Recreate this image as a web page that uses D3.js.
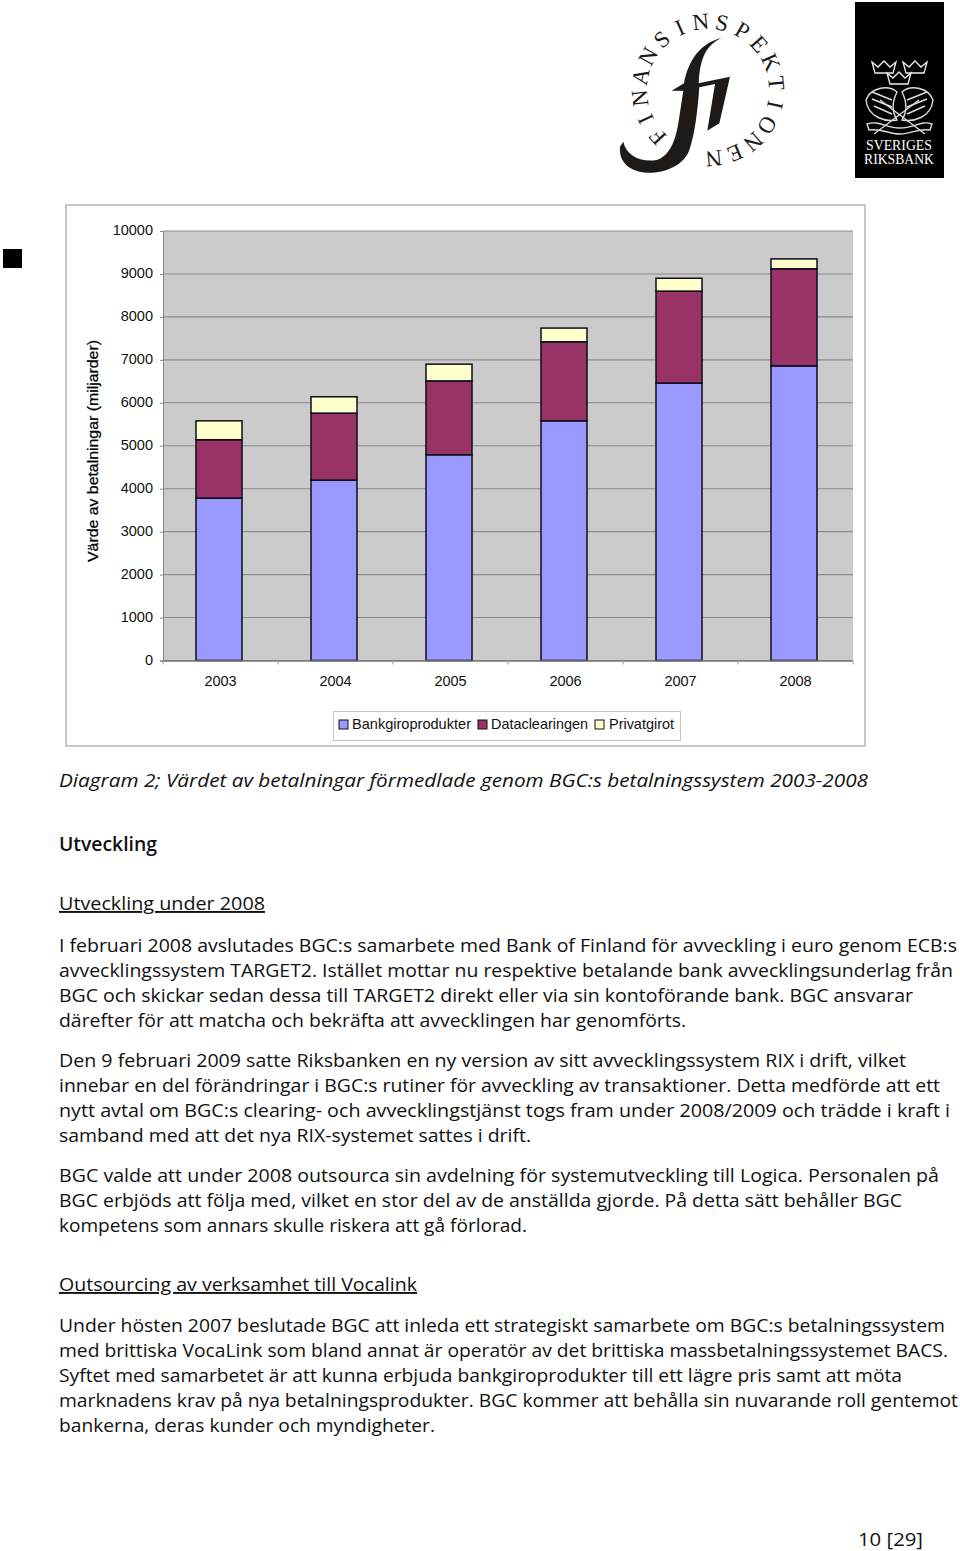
<!DOCTYPE html>
<html><head><meta charset="utf-8">
<script src="https://d3js.org/d3.v7.min.js"></script>
<style>html,body{margin:0;padding:0;background:#fff}svg{display:block}</style>
</head><body><div id="c"></div>
<script>
const years=["2003","2004","2005","2006","2007","2008"];
const bankgiro=[3780,4200,4790,5580,6460,6860];
const dataclearing=[1360,1560,1720,1840,2140,2260];
const privatgirot=[440,380,390,320,300,230];
const seriesNames=["Bankgiroprodukter","Dataclearingen","Privatgirot"];
const seriesColors=["#9999ff","#993366","#ffffcc"];
const yTicks=[0,1000,2000,3000,4000,5000,6000,7000,8000,9000,10000];
const yTitle="Värde av betalningar (miljarder)";
const logoLetters="FINANSINSPEKTIONEN".split("");
const bankLines=["SVERIGES","RIKSBANK"];
const bodyLines=[
["Diagram 2; Värdet av betalningar förmedlade genom BGC:s betalningssystem 2003-2008",787,868,"i"],
["Utveckling",851,157,"b"],
["Utveckling under 2008",910,265,"u"],
["I februari 2008 avslutades BGC:s samarbete med Bank of Finland för avveckling i euro genom ECB:s",952,957,""],
["avvecklingssystem TARGET2. Istället mottar nu respektive betalande bank avvecklingsunderlag från",977,953,""],
["BGC och skickar sedan dessa till TARGET2 direkt eller via sin kontoförande bank. BGC ansvarar",1002,913,""],
["därefter för att matcha och bekräfta att avvecklingen har genomförts.",1027,686,""],
["Den 9 februari 2009 satte Riksbanken en ny version av sitt avvecklingssystem RIX i drift, vilket",1067,906,""],
["innebar en del förändringar i BGC:s rutiner för avveckling av transaktioner. Detta medförde att ett",1092,940,""],
["nytt avtal om BGC:s clearing- och avvecklingstjänst togs fram under 2008/2009 och trädde i kraft i",1117,950,""],
["samband med att det nya RIX-systemet sattes i drift.",1142,531,""],
["BGC valde att under 2008 outsourca sin avdelning för systemutveckling till Logica.  Personalen på",1182,939,""],
["BGC erbjöds att följa med, vilket en stor del av de anställda gjorde. På detta sätt behåller BGC",1207,902,""],
["kompetens som annars skulle riskera att gå förlorad.",1232,527,""],
["Outsourcing av verksamhet till Vocalink",1291,417,"u"],
["Under hösten 2007 beslutade BGC att inleda ett strategiskt samarbete om BGC:s betalningssystem",1332,945,""],
["med brittiska VocaLink som bland annat är operatör av det brittiska massbetalningssystemet BACS.",1357,948,""],
["Syftet med samarbetet är att kunna erbjuda bankgiroprodukter till ett lägre pris samt att möta",1382,902,""],
["marknadens krav på nya betalningsprodukter. BGC kommer att behålla sin nuvarande roll gentemot",1407,958,""],
["bankerna, deras kunder och myndigheter.",1432,435,""]
];
const pageNo="10 [29]";

const svg=d3.select("#c").append("svg").attr("width",960).attr("height",1551);
const sans="'Liberation Sans',Arial,sans-serif";
const body="'Open Sans','Noto Sans',sans-serif";

// ---- logos
const fi=svg.append("g");
const ang=d3.scaleLinear().domain([0,logoLetters.length-1]).range([-133,175]);
fi.selectAll("text").data(logoLetters).join("text")
 .attr("transform",(d,i)=>`translate(708,90) rotate(${ang(i)}) translate(0,-61)`)
 .attr("text-anchor","middle").attr("font-family","'Liberation Serif',serif")
 .attr("font-size",23).attr("fill","#1d1a18").text(d=>d);
fi.append("path").attr("transform","translate(600,0) scale(0.3333)").attr("fill","#1d1a18")
 .attr("d","M365,113 C320,135 300,170 296,250 L390,230 L358,370 L322,392 L345,252 L298,262 C292,340 285,400 268,450 C250,500 190,520 140,518 C95,515 55,490 60,440 L70,425 C78,465 120,488 170,480 C205,470 225,430 235,370 L250,272 L215,272 L252,250 C265,180 300,130 365,113 Z");

const rb=svg.append("g");
rb.append("rect").attr("x",855).attr("y",2).attr("width",89).attr("height",176).attr("fill","#000");
const crown="M-12,-6 L-6,-1 L0,-7 L6,-1 L12,-6 L9,5 L-9,5 Z";
[[884,68],[915,68],[899,79]].forEach(p=>{
 rb.append("path").attr("transform",`translate(${p[0]},${p[1]})`).attr("d",crown)
  .attr("fill","none").attr("stroke","#eee").attr("stroke-width",1.3);
});
[
 "M866,100 C870,88 888,84 897,92 C892,102 892,112 897,120 C886,122 868,118 866,100 Z",
 "M933,100 C929,88 911,84 902,92 C907,102 907,112 902,120 C913,122 931,118 933,100 Z",
 "M880,100 L925,134 M919,100 L874,134",
 "M867,124 C880,120 885,128 900,128 C915,128 920,120 932,124 L930,130 C918,128 912,134 900,134 C888,134 882,128 869,130 Z",
 "M872,92 L892,100 M872,99 L892,107 M874,106 L892,114",
 "M927,92 L907,100 M927,99 L907,107 M925,106 L907,114"
].forEach(d=>rb.append("path").attr("d",d).attr("fill","none").attr("stroke","#ddd").attr("stroke-width",1.4));
rb.selectAll("text").data(bankLines).join("text")
 .attr("x",899).attr("y",(d,i)=>150+i*13.5).attr("text-anchor","middle")
 .attr("font-family","'Liberation Serif',serif").attr("font-size",14).attr("fill","#fff")
 .attr("textLength",(d,i)=>i?70:66).attr("lengthAdjust","spacingAndGlyphs").text(d=>d);

svg.append("rect").attr("x",3).attr("y",249).attr("width",19).attr("height",19).attr("fill","#000");

// ---- chart
svg.append("rect").attr("x",66).attr("y",205).attr("width",799).attr("height",541)
 .attr("fill","#fff").attr("stroke","#a6a6a6").attr("stroke-width",1.2);
const L=163,R=853,T=231,B=660.5;
const y=d3.scaleLinear().domain([0,10000]).range([B,T]);
const x=d3.scaleBand().domain(years).range([L-1.5,R-1.5]).paddingInner(0.6).paddingOuter(0.3);
svg.append("rect").attr("x",L).attr("y",T).attr("width",R-L).attr("height",B-T).attr("fill","#cbcbcb");

const gy=svg.append("g").attr("transform",`translate(${L},0)`)
 .call(d3.axisLeft(y).tickValues(yTicks).tickFormat(d3.format("d")).tickSize(3).tickPadding(7));
gy.selectAll("path,line").attr("stroke","#868686");
gy.selectAll("text").attr("font-family",sans).attr("font-size",14.5).attr("fill","#111").attr("dy","0.25em");
svg.append("g").selectAll("line").data(yTicks).join("line")
 .attr("x1",L).attr("x2",R).attr("y1",d=>y(d)).attr("y2",d=>y(d))
 .attr("stroke","#8c8c8c").attr("stroke-width",1.1);

const rows=years.map((yr,i)=>({year:yr,[seriesNames[0]]:bankgiro[i],[seriesNames[1]]:dataclearing[i],[seriesNames[2]]:privatgirot[i]}));
const stacked=d3.stack().keys(seriesNames)(rows);
svg.append("g").selectAll("g").data(stacked).join("g")
 .attr("fill",(d,i)=>seriesColors[i])
 .selectAll("rect").data(d=>d).join("rect")
 .attr("x",d=>x(d.data.year)).attr("width",x.bandwidth())
 .attr("y",d=>y(d[1])).attr("height",d=>y(d[0])-y(d[1]))
 .attr("stroke","#0d0d1a").attr("stroke-width",1.5);

const gx=svg.append("g").attr("transform",`translate(0,${B})`)
 .call(d3.axisBottom(x).tickSize(0).tickPadding(15));
gx.select("path").attr("stroke","#777").attr("stroke-width",1.4);
gx.selectAll("text").attr("font-family",sans).attr("font-size",14.5).attr("fill","#111").attr("dx",1.5);
const sep=d3.scaleLinear().domain([0,years.length]).range([L,R]);
svg.append("g").selectAll("line").data(d3.range(years.length+1)).join("line")
 .attr("x1",d=>sep(d)).attr("x2",d=>sep(d)).attr("y1",B).attr("y2",B+4).attr("stroke","#999");

svg.append("text").attr("transform","translate(98,451) rotate(-90)").attr("text-anchor","middle")
 .attr("font-family",sans).attr("font-size",14).attr("fill","#000").attr("stroke","#000").attr("stroke-width",0.25)
 .attr("textLength",222).attr("lengthAdjust","spacingAndGlyphs").text(yTitle);

// legend
svg.append("rect").attr("x",333.5).attr("y",711.5).attr("width",347).attr("height",29)
 .attr("fill","#fff").attr("stroke","#c4c4c4");
const swX=[339,478,595], txtX=[352,491,609], txtW=[119,97,65];
seriesNames.forEach((n,i)=>{
 svg.append("rect").attr("x",swX[i]).attr("y",720).attr("width",9).attr("height",9)
  .attr("fill",seriesColors[i]).attr("stroke","#111").attr("stroke-width",1);
 svg.append("text").attr("x",txtX[i]).attr("y",729).attr("font-family",sans).attr("font-size",14.5)
  .attr("fill","#111").attr("textLength",txtW[i]).attr("lengthAdjust","spacingAndGlyphs").text(n);
});

// ---- body text
const X0=59;
bodyLines.forEach(([t,yy,xr,st])=>{
 svg.append("text").attr("x",X0).attr("y",yy).attr("font-family",body).attr("font-size",19)
  .attr("fill","#111").attr("font-style",st==="i"?"italic":"normal")
  .attr("font-weight",st==="b"?600:400)
  .attr("text-decoration",st==="u"?"underline":"none")
  .attr("textLength",xr-X0).attr("lengthAdjust","spacingAndGlyphs").text(t);
});
svg.append("text").attr("x",858).attr("y",1546).attr("font-family",body).attr("font-size",19)
 .attr("fill","#111").attr("textLength",65).attr("lengthAdjust","spacingAndGlyphs").text(pageNo);
</script></body></html>
